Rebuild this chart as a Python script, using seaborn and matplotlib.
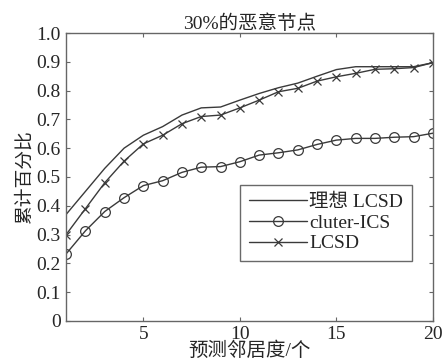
import matplotlib
matplotlib.use("Agg")
import matplotlib.pyplot as plt
import seaborn as sns

# ======================
# data
# ======================
neighbors = list(range(1, 21))
ideal_lcsd = [0.37, 0.45, 0.53, 0.60, 0.645, 0.675, 0.715, 0.74, 0.743, 0.767,
              0.79, 0.81, 0.826, 0.85, 0.873, 0.883, 0.883, 0.883, 0.883, 0.897]
cluter_ics = [0.233, 0.313, 0.38, 0.428, 0.47, 0.487, 0.516, 0.534, 0.536, 0.553,
              0.576, 0.584, 0.594, 0.613, 0.628, 0.634, 0.634, 0.638, 0.64, 0.652]
lcsd = [0.30, 0.39, 0.48, 0.555, 0.615, 0.645, 0.685, 0.71, 0.715, 0.74,
        0.767, 0.796, 0.808, 0.833, 0.848, 0.86, 0.874, 0.876, 0.88, 0.897]
labels = ["理想 LCSD", "cluter-ICS", "LCSD"]
yticks = [0, 0.1, 0.2, 0.3, 0.4, 0.5, 0.6, 0.7, 0.8, 0.9, 1.0]
ytick_labels = ["0", "0.1", "0.2", "0.3", "0.4", "0.5", "0.6", "0.7", "0.8", "0.9", "1.0"]

sns.set_style("ticks")
plt.rcParams['font.family'] = ['Liberation Serif', 'Noto Sans CJK SC']
plt.rcParams['xtick.direction'] = 'in'
plt.rcParams['ytick.direction'] = 'in'

fig = plt.figure(figsize=(4.44, 3.63), dpi=100)
ax = fig.add_axes([0.149, 0.116, 0.826, 0.793])

line_color = "#3a3a3a"
series = [(ideal_lcsd, labels[0], None, 7), (cluter_ics, labels[1], "o", 7), (lcsd, labels[2], "x", 6)]
for vals, lab, mk, ms in series:
    sns.lineplot(x=neighbors, y=vals, label=lab, color=line_color, linewidth=1.0,
                 marker=mk, markersize=ms, markerfacecolor="none",
                 markeredgecolor=line_color, markeredgewidth=0.9, ax=ax)

ax.set_xlim(1, 20)
ax.set_ylim(0, 1.0)
ax.set_xticks([5, 10, 15, 20])
ax.set_yticks(yticks)
ax.set_yticklabels(ytick_labels)
ax.tick_params(labelsize=14, top=True, right=True, length=3, color="#666666", pad=4)
for s in ax.spines.values():
    s.set_color("#666666")
    s.set_linewidth(1.0)

ax.set_title("30%的恶意节点", fontsize=14, pad=3)
ax.set_xlabel("预测邻居度/个", fontsize=14, labelpad=-1)
ax.set_ylabel("累计百分比", fontsize=13.5, labelpad=2)

leg = ax.legend(loc="center right", bbox_to_anchor=(0.943, 0.34), fontsize=14,
                frameon=True, fancybox=False, edgecolor="#444444",
                handlelength=3.0, handletextpad=0.1, borderpad=0.45,
                labelspacing=0.15, borderaxespad=0)
leg.get_frame().set_linewidth(1.0)

plt.savefig("out.png", dpi=100)
